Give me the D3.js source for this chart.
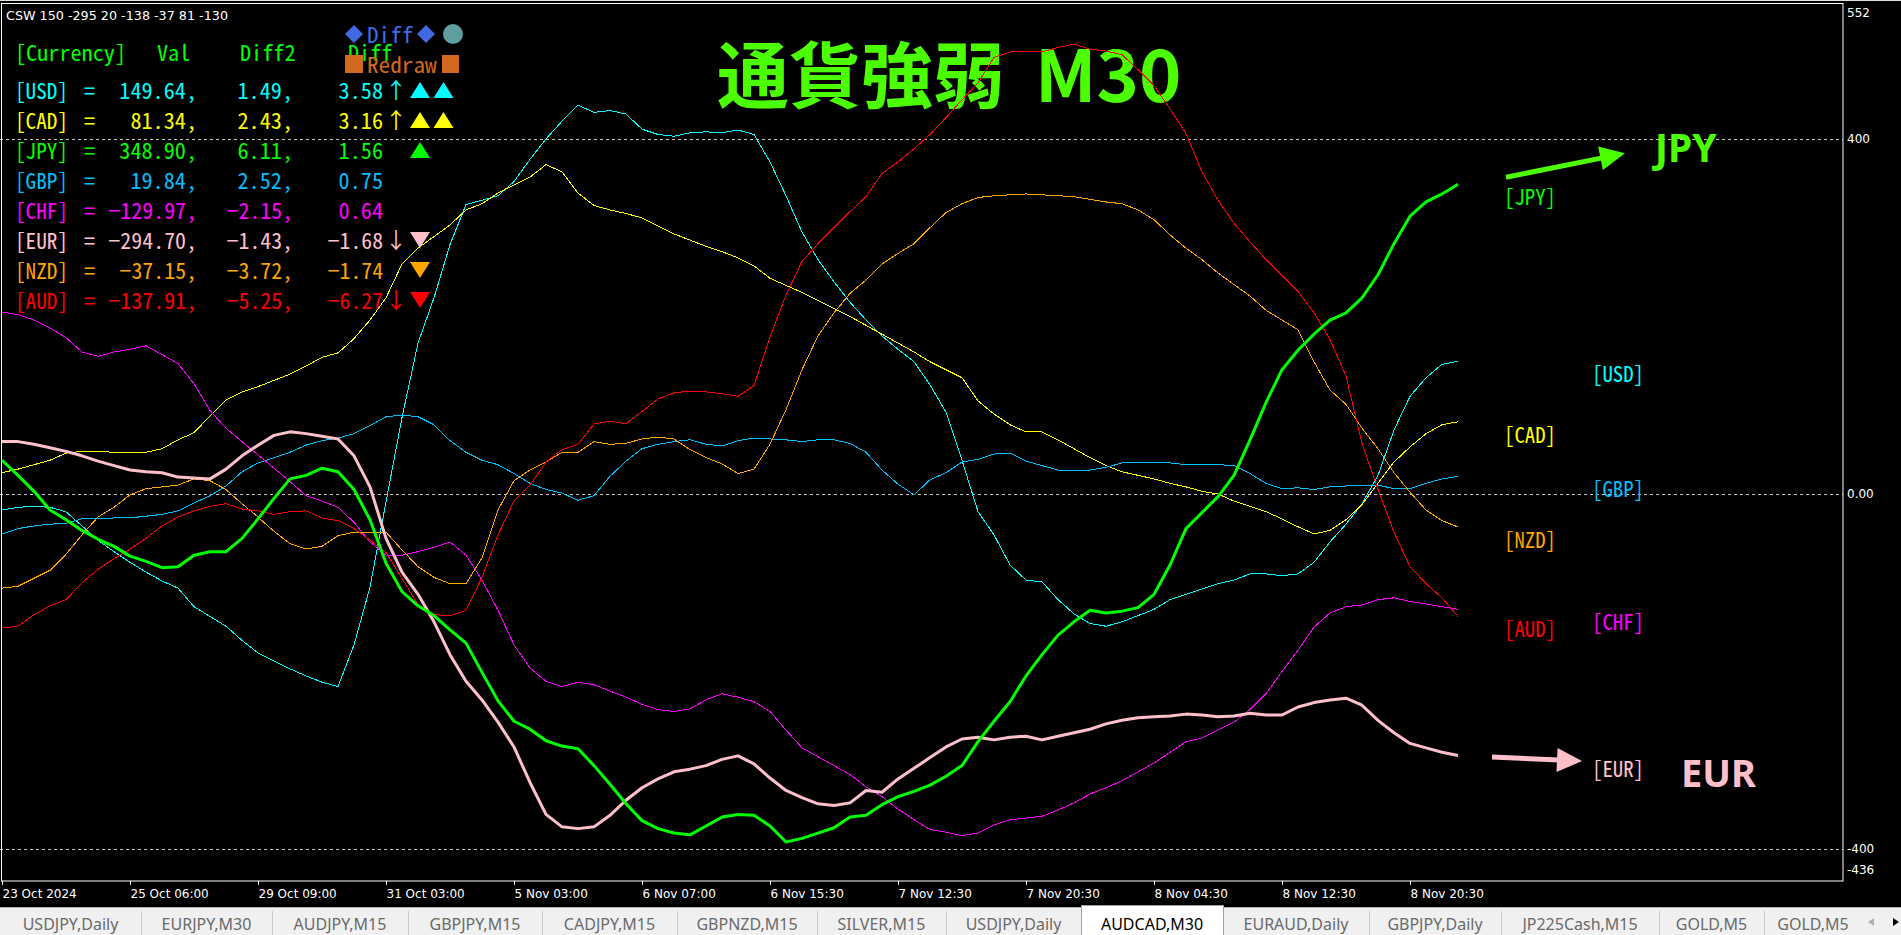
<!DOCTYPE html>
<html><head><meta charset="utf-8">
<script src="https://cdn.jsdelivr.net/npm/d3@7"></script>
<style>
html,body{margin:0;padding:0;background:#000;overflow:hidden}
svg{display:block}
.mono{font-family:"Noto Sans Mono CJK JP","Noto Sans CJK JP","DejaVu Sans Mono",monospace;font-size:22px}
.ax{font-family:"DejaVu Sans",sans-serif;font-size:12px;fill:#fff}
.tab{font-family:"Noto Sans","DejaVu Sans",sans-serif;font-size:16px}
</style></head><body>
<svg id="c" width="1901" height="935"></svg>
<script>
// ---------------- DATA ----------------
const currencies = ["USD","CAD","JPY","GBP","CHF","EUR","NZD","AUD"];
const timeLabels = ["23 Oct 2024","25 Oct 06:00","29 Oct 09:00","31 Oct 03:00","5 Nov 03:00","6 Nov 07:00",
  "6 Nov 15:30","7 Nov 12:30","7 Nov 20:30","8 Nov 04:30","8 Nov 12:30","8 Nov 20:30"];
const priceTicks = [400, 0, -400];
const priceRange = [-436, 552];
const barIdx = d3.range(0, 183, 2); // M30 bar index of each sample

const usd = [-18,-15,-14,-15,-20,-36,-52,-65,-77,-88,
 -98,-106,-127,-138,-149,-165,-179,-188,-197,-205,
 -212,-217,-170,-105,-9,86,170,221,281,326,
 331,336,352,377,400,420,438,430,432,428,
 411,405,403,407,408,407,410,405,374,336,
 295,264,239,216,196,178,163,149,123,92,
 38,-20,-46,-80,-97,-99,-119,-135,-146,-149,
 -144,-137,-130,-119,-113,-107,-101,-97,-90,-90,
 -92,-90,-77,-54,-34,-11,21,72,110,131,
 146,149.64];
const cad = [24,28,33,38,46,48,48,47,47,47,
 51,61,69,88,106,115,121,128,135,144,
 154,159,175,196,221,259,277,290,303,320,
 327,339,348,357,371,363,339,325,320,316,
 311,302,293,286,279,273,266,257,243,235,
 227,218,209,200,190,180,170,160,149,140,
 131,105,90,78,70,70,61,51,41,32,
 25,21,17,12,8,3,0,-8,-14,-20,
 -28,-37,-45,-41,-29,-12,12,36,53,68,
 78,81.34];
const jpy = [38,21,3,-18,-29,-41,-51,-59,-70,-76,
 -83,-82,-69,-65,-65,-50,-28,-5,17,21,
 29,25,5,-29,-78,-110,-126,-137,-153,-168,
 -201,-233,-256,-265,-278,-284,-287,-306,-327,-349,
 -368,-377,-382,-384,-374,-364,-361,-362,-374,-392,
 -388,-382,-376,-364,-362,-350,-341,-335,-328,-318,
 -306,-279,-256,-234,-205,-181,-159,-144,-131,-134,
 -132,-128,-113,-80,-39,-21,-3,21,61,103,
 140,162,180,196,204,221,247,282,313,329,
 338,348.90];
const gbp = [-45,-39,-36,-34,-33,-28,-28,-27,-27,-25,
 -23,-19,-10,-2,9,25,35,41,47,55,
 60,63,68,77,87,89,87,78,60,47,
 38,33,23,12,5,1,-7,-2,20,37,
 51,56,59,61,56,54,60,63,62,61,
 59,61,61,57,47,27,11,-1,16,24,
 36,39,45,46,37,32,27,27,27,30,
 35,36,36,35,33,33,33,32,23,12,
 6,7,5,8,9,9,10,6,6,12,
 17,19.84];
const chf = [205,202,196,187,176,160,155,160,163,167,
 157,147,124,94,74,59,44,29,14,-2,
 -8,-15,-32,-54,-69,-69,-65,-60,-54,-69,
 -97,-131,-170,-196,-211,-217,-212,-215,-222,-229,
 -237,-243,-245,-242,-232,-225,-229,-234,-245,-266,
 -286,-296,-306,-316,-330,-341,-355,-367,-378,-381,
 -385,-382,-373,-367,-365,-363,-356,-348,-338,-331,
 -323,-313,-303,-291,-279,-275,-266,-257,-243,-225,
 -200,-176,-150,-134,-127,-125,-119,-117,-121,-124,
 -127,-129.97];
const eur = [59,59,56,52,48,43,37,32,27,25,
 24,19,18,17,28,43,55,66,70,68,
 65,62,43,8,-50,-88,-113,-144,-181,-211,
 -232,-257,-285,-325,-361,-375,-377,-375,-362,-345,
 -331,-321,-313,-310,-306,-299,-295,-304,-320,-334,
 -342,-349,-351,-348,-334,-336,-321,-309,-297,-285,
 -276,-274,-277,-274,-273,-277,-273,-269,-265,-259,
 -255,-252,-251,-250,-248,-249,-251,-250,-247,-249,
 -249,-240,-235,-232,-230,-238,-255,-269,-281,-286,
 -291,-294.70];
const nzd = [-106,-104,-95,-86,-68,-46,-26,-15,-1,6,
 8,10,17,15,5,-11,-26,-42,-56,-62,
 -59,-47,-43,-43,-43,-63,-82,-94,-101,-101,
 -72,-18,15,27,36,47,47,59,56,57,
 62,64,62,50,41,34,23,28,56,95,
 140,178,204,226,241,259,271,282,300,317,
 327,334,336,337,338,337,336,335,332,329,
 327,320,309,292,277,264,249,236,223,207,
 196,185,149,117,101,74,51,24,2,-18,
 -30,-37.15];
const aud = [-151,-149,-136,-126,-119,-100,-85,-73,-62,-50,
 -36,-26,-19,-14,-11,-17,-19,-23,-20,-19,
 -27,-30,-39,-52,-66,-95,-125,-136,-137,-131,
 -94,-46,-8,10,36,50,56,79,82,79,
 93,107,114,116,115,113,110,122,177,224,
 262,282,300,318,335,361,374,389,405,424,
 444,463,492,498,498,498,503,507,501,499,
 495,478,460,434,406,363,331,305,284,264,
 246,228,204,174,133,57,5,-43,-82,-101,
 -117,-137.91];

// table values
const tableVal   = [149.64, 81.34, 348.90, 19.84, -129.97, -294.70, -37.15, -137.91];
const tableDiff2 = [1.49, 2.43, 6.11, 2.52, -2.15, -1.43, -3.72, -5.25];
const tableDiff  = [3.58, 3.16, 1.56, 0.75, 0.64, -1.68, -1.74, -6.27];
const tableArrow = ["↑","↑","","","","↓","","↓"];
const tableSignal = [2, 2, 1, 0, 0, -1, -1, -1];
const cswText = "CSW 150 -295 20 -138 -37 81 -130";
const tabLabels = ["USDJPY,Daily","EURJPY,M30","AUDJPY,M15","GBPJPY,M15","CADJPY,M15","GBPNZD,M15","SILVER,M15",
  "USDJPY,Daily","AUDCAD,M30","EURAUD,Daily","GBPJPY,Daily","JP225Cash,M15","GOLD,M5","GOLD,M5"];
const activeTab = "AUDCAD,M30";

// ---------------- STYLE / LAYOUT ----------------
const color = {USD:"#00ffff",CAD:"#ffff00",JPY:"#00ff00",GBP:"#00bfff",CHF:"#ff00ff",EUR:"#ffc0cb",NZD:"#ffa500",AUD:"#ff0000"};
const thick = {JPY:3, EUR:3};
const titleGreen = "#4cff00";
const tabEdges = [0,141,272,408,542,677,817,946,1081,1223,1369,1501,1659,1764,1862];

const series = {USD:usd,CAD:cad,JPY:jpy,GBP:gbp,CHF:chf,EUR:eur,NZD:nzd,AUD:aud};
const W=1901,H=935, frameR=1843, plotBottom=881;
const svg=d3.select("#c");
svg.append("rect").attr("width",W).attr("height",H).attr("fill","#000");

const x=d3.scaleLinear().domain([0,182]).range([2,1458]);
const y=d3.scaleLinear().domain(priceRange).range([plotBottom,4]);

// grid
svg.selectAll("line.grid").data(priceTicks).join("line").attr("class","grid")
  .attr("x1",0).attr("x2",frameR).attr("y1",d=>Math.round(y(d))+0.5).attr("y2",d=>Math.round(y(d))+0.5)
  .attr("stroke","#c8c8c8").attr("stroke-dasharray","3,3");

// frame
svg.append("line").attr("x1",0).attr("x2",W).attr("y1",0.5).attr("y2",0.5).attr("stroke","#e0e0e0");
svg.append("rect").attr("x",1.5).attr("y",3.5).attr("width",frameR-1.5).attr("height",plotBottom-3.5)
  .attr("fill","none").attr("stroke","#fff");

// title
const title=svg.append("text").attr("x",717).attr("y",102).attr("fill",titleGreen)
  .style("font-family",'"Noto Sans CJK JP","Noto Sans",sans-serif').style("font-weight","700").style("font-size","72px");
title.append("tspan").text("通貨強弱");
title.append("tspan").attr("dx",30).text("M30");

// lines
const lineGen=d3.line().x((d,i)=>x(barIdx[i])).y(d=>y(d));
const drawOrder=["USD","CAD","GBP","CHF","NZD","AUD","EUR","JPY"];
svg.append("g").selectAll("path").data(drawOrder).join("path")
  .attr("d",c=>lineGen(series[c])).attr("fill","none").attr("stroke",c=>color[c])
  .attr("stroke-width",c=>thick[c]||1).attr("stroke-linejoin","round")
  .attr("shape-rendering",c=>thick[c]?"auto":"crispEdges");

// end labels (alternate columns by rank)
const ranked=currencies.slice().sort((a,b)=>series[b][series[b].length-1]-series[a][series[a].length-1]);
const gl=svg.append("g");
ranked.forEach((c,r)=>{
  const last=series[c][series[c].length-1];
  gl.append("text").attr("class","mono").attr("x",r%2===0?1504:1592).attr("y",y(last)+21)
    .attr("fill",color[c]).attr("textLength",52).attr("lengthAdjust","spacingAndGlyphs").text("["+c+"]");
});

// annotations JPY / EUR
function arrow(x0,y0,x1,y1,col){
  const dx=x1-x0,dy=y1-y0,L=Math.hypot(dx,dy),ux=dx/L,uy=dy/L,nx=-uy,ny=ux;
  const bx=x1-25*ux,by=y1-25*uy;
  svg.append("line").attr("x1",x0).attr("y1",y0).attr("x2",bx+2*ux).attr("y2",by+2*uy).attr("stroke",col).attr("stroke-width",5);
  svg.append("path").attr("d",`M${x1},${y1}L${bx+12*nx},${by+12*ny}L${bx-12*nx},${by-12*ny}Z`).attr("fill",col);
}
const yJ=y(jpy[jpy.length-1]), yE=y(eur[eur.length-1]);
arrow(1506,yJ-7,1625,yJ-31,titleGreen);
svg.append("text").attr("x",1655).attr("y",yJ-22).attr("fill",titleGreen)
  .style("font-family",'"Noto Sans","DejaVu Sans",sans-serif').style("font-weight","700").style("font-size","39px").text("JPY");
arrow(1492,yE+1.5,1582,yE+5.5,color.EUR);
svg.append("text").attr("x",1681).attr("y",yE+31.5).attr("fill",color.EUR)
  .style("font-family",'"Noto Sans","DejaVu Sans",sans-serif').style("font-weight","700").style("font-size","38px").text("EUR");

// right axis
const ra=svg.append("g").attr("transform",`translate(${frameR},0)`)
  .call(d3.axisRight(y).tickValues(priceTicks).tickSize(0).tickFormat(d=>d===0?"0.00":d));
ra.select(".domain").remove();
ra.selectAll("text").attr("class","ax").attr("x",4).attr("fill","#fff");
svg.append("text").attr("class","ax").attr("x",frameR+4).attr("y",y(priceRange[1])+9).attr("dy","0.35em").text(priceRange[1]);
svg.append("text").attr("class","ax").attr("x",frameR+4).attr("y",y(priceRange[0])-11).attr("dy","0.35em").text(priceRange[0]);

// bottom axis
const ba=svg.append("g").attr("transform",`translate(0,${plotBottom})`)
  .call(d3.axisBottom(x).tickValues(d3.range(0,177,16)).tickSize(4).tickFormat((d,i)=>timeLabels[i]));
ba.select(".domain").remove();
ba.selectAll("line").attr("stroke","#fff");
ba.selectAll("text").attr("class","ax").attr("text-anchor","start").attr("x",0).attr("y",17).attr("dy",0).attr("fill","#fff");

// CSW text
svg.append("text").attr("x",6).attr("y",20).attr("fill","#fff").attr("textLength",222).attr("lengthAdjust","spacingAndGlyphs")
  .style("font-family",'"DejaVu Sans",sans-serif').style("font-size","13px").text(cswText);

// table
const cw=11.1;
const tg=svg.append("g");
function mono(str,xs,yb,col,w){
  return tg.append("text").attr("class","mono").attr("x",xs).attr("y",yb).attr("fill",col)
    .attr("textLength",str.length*(w||cw)).attr("lengthAdjust","spacingAndGlyphs").text(str);
}
function monoR(str,xr,yb,col){ return mono(str,xr-str.length*cw,yb,col); }
mono("[Currency]",15,61,"#00ff00");
mono("Val",157,61,"#00ff00");
mono("Diff2",240,61,"#00ff00");
mono("Diff",348,61,"#00ff00");
const rowY=d3.scaleLinear().domain([0,7]).range([99,309]);
const f2=d3.format(".2f");
currencies.forEach((c,i)=>{
  const yb=rowY(i), col=color[c];
  mono("["+c+"]",15,yb,col,10.6);
  mono("=",84,yb,col);
  monoR(f2(tableVal[i])+",",197,yb,col);
  monoR(f2(tableDiff2[i])+",",293,yb,col);
  monoR(f2(tableDiff[i]),383,yb,col);
  if(tableArrow[i]) tg.append("text").attr("class","mono").attr("x",396).attr("y",yb-1).attr("text-anchor","middle").attr("fill",col).text(tableArrow[i]);
  const n=Math.abs(tableSignal[i]), up=tableSignal[i]>0;
  for(let k=0;k<n;k++){
    const cx=420+k*23.5, cy=yb-9;
    const p=up?`M${cx},${cy-8}L${cx+10},${cy+8}L${cx-10},${cy+8}Z`:`M${cx},${cy+8}L${cx+10},${cy-8}L${cx-10},${cy-8}Z`;
    tg.append("path").attr("d",p).attr("fill",col);
  }
});

// buttons
const blue="#4169e1", choc="#d2691e";
function diamond(cx,cy){ tg.append("path").attr("d",`M${cx},${cy-9}L${cx+9},${cy}L${cx},${cy+9}L${cx-9},${cy}Z`).attr("fill",blue); }
diamond(354,34); diamond(426,34);
mono("Diff",367,43,blue,11.6);
tg.append("circle").attr("cx",453).attr("cy",34).attr("r",10).attr("fill","#5f9ea0");
tg.append("rect").attr("x",345).attr("y",55).attr("width",18).attr("height",18).attr("fill",choc);
tg.append("rect").attr("x",442).attr("y",55).attr("width",17).attr("height",18).attr("fill",choc);
mono("Redraw",367,73,choc,11.6);

// tab bar
const tb=svg.append("g");
tb.append("rect").attr("x",0).attr("y",907).attr("width",W).attr("height",28).attr("fill","#f0f0f0");
tb.append("line").attr("x1",0).attr("x2",W).attr("y1",907.5).attr("y2",907.5).attr("stroke","#b4b4b4");
tabLabels.forEach((t,i)=>{
  const a=tabEdges[i], b=tabEdges[i+1], act=(t===activeTab && i===8);
  if(act){
    tb.append("rect").attr("x",a+0.5).attr("y",905.5).attr("width",b-a).attr("height",30).attr("fill","#fff").attr("stroke","#a0a0a0");
  } else {
    tb.append("line").attr("x1",b+0.5).attr("x2",b+0.5).attr("y1",911).attr("y2",935).attr("stroke","#c8c8c8");
  }
  tb.append("text").attr("class","tab").attr("x",(a+b)/2).attr("y",930).attr("text-anchor","middle")
    .attr("fill",act?"#000":"#6a6a6a").text(t);
});
tb.append("rect").attr("x",1862).attr("y",908).attr("width",39).attr("height",27).attr("fill","#f0f0f0");
tb.append("path").attr("d","M1868,922L1874,918L1874,926Z").attr("fill","#b0b0b0");
tb.append("path").attr("d","M1899,922L1893,918L1893,926Z").attr("fill","#000");
</script>
</body></html>
